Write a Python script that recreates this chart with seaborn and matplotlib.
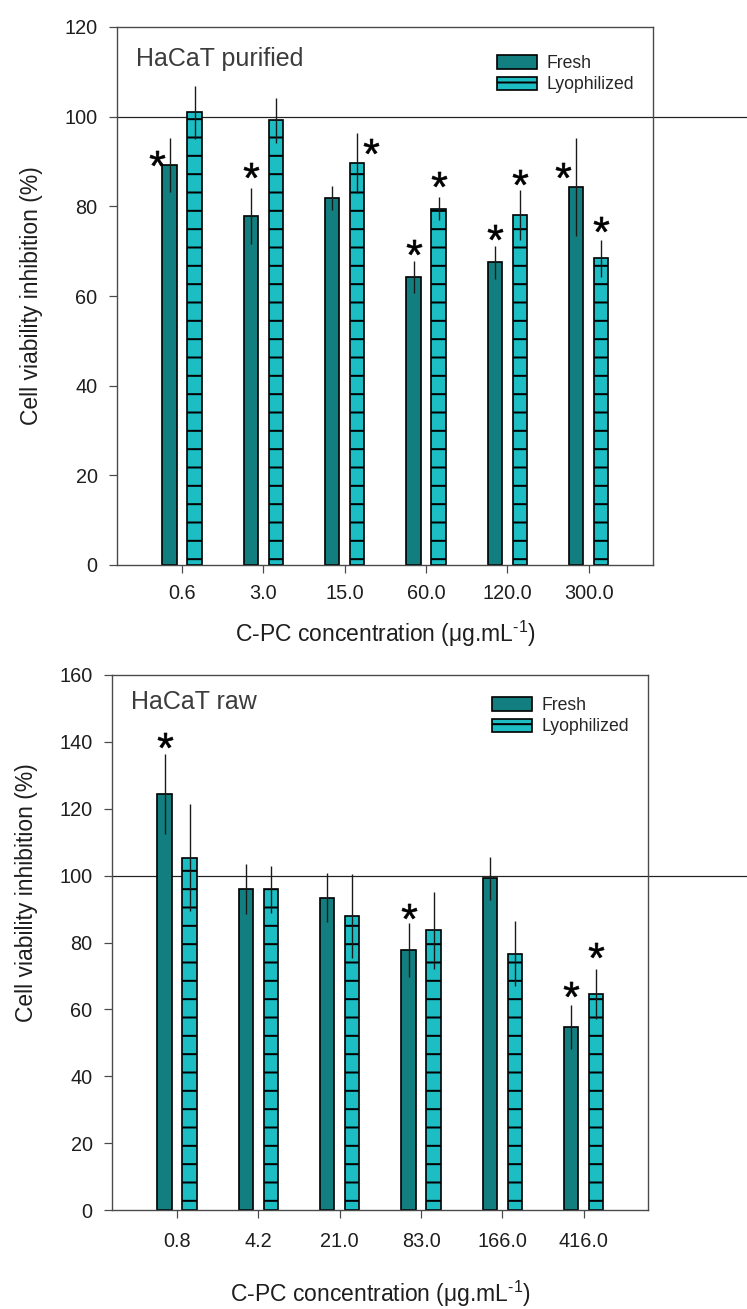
import numpy as np
import pandas as pd
import matplotlib
matplotlib.use("Agg")
import matplotlib.pyplot as plt
from matplotlib.patches import Patch
import seaborn as sns

# ---- data -------------------------------------------------------------
purified_conc = ["0.6", "3.0", "15.0", "60.0", "120.0", "300.0"]
purified_fresh = [89.2, 77.8, 81.9, 64.3, 67.5, 84.3]
purified_fresh_err = [6.1, 6.2, 2.7, 3.6, 3.7, 11.0]
purified_lyo = [101.0, 99.2, 89.7, 79.5, 78.1, 68.4]
purified_lyo_err = [5.9, 5.0, 6.7, 2.5, 5.5, 4.2]

raw_conc = ["0.8", "4.2", "21.0", "83.0", "166.0", "416.0"]
raw_fresh = [124.3, 95.9, 93.4, 77.7, 99.2, 54.8]
raw_fresh_err = [12.0, 7.5, 7.3, 8.0, 6.5, 6.6]
raw_lyo = [105.3, 95.9, 88.0, 83.7, 76.7, 64.7]
raw_lyo_err = [16.0, 7.0, 12.5, 11.5, 9.8, 7.5]

series_names = ["Fresh", "Lyophilized"]

# significance marks: (concentration, series, placement, height)
purified_marks = [("0.6", "Fresh", "left", 90.7), ("3.0", "Fresh", "top", 88.0),
                  ("15.0", "Lyophilized", "right", 93.5), ("60.0", "Fresh", "top", 70.9),
                  ("60.0", "Lyophilized", "top", 86.1), ("120.0", "Fresh", "top", 74.3),
                  ("120.0", "Lyophilized", "top", 86.5), ("300.0", "Fresh", "left", 88.0),
                  ("300.0", "Lyophilized", "top", 76.0)]
raw_marks = [("0.8", "Fresh", "top", 140.5), ("83.0", "Fresh", "top", 89.5),
             ("416.0", "Fresh", "top", 66.0), ("416.0", "Lyophilized", "top", 77.7)]

# ---- style ------------------------------------------------------------
DPI = 110
sns.set_theme(style="ticks")
plt.rcParams["font.family"] = ["Liberation Sans", "DejaVu Sans"]
plt.rcParams["mathtext.fontset"] = "custom"
plt.rcParams["mathtext.rm"] = "Liberation Sans"
plt.rcParams["mathtext.it"] = "Liberation Sans:italic"
plt.rcParams["hatch.linewidth"] = 1.3
plt.rcParams["hatch.color"] = "black"

FRESH = "#137e80"
LYO = "#1cbec4"
palette = {"Fresh": FRESH, "Lyophilized": LYO}
SPINE = "#4a4a4a"
XLABEL = "C-PC concentration (μg.mL$^{\\text{-}1}$)"

fig = plt.figure(figsize=(747 / DPI, 1309 / DPI), dpi=DPI)
ax_top = fig.add_axes([117 / 747, 1 - 565 / 1309, 536 / 747, 538 / 1309])
ax_bot = fig.add_axes([112 / 747, 1 - 1210 / 1309, 536 / 747, 535 / 1309])


def long_frame(conc, fresh, lyo):
    return pd.DataFrame({
        "conc": conc * 2,
        "series": ["Fresh"] * len(conc) + ["Lyophilized"] * len(conc),
        "value": list(fresh) + list(lyo),
    })


def draw_panel(ax, conc, fresh, fresh_err, lyo, lyo_err, ymax, title, marks,
               tick_pad, title_y, label_y, legend_y, ylabel_y):
    df = long_frame(conc, fresh, lyo)
    sns.barplot(data=df, x="conc", y="value", hue="series", order=conc,
                hue_order=series_names, palette=palette, errorbar=None,
                width=0.615, gap=0.43, saturation=1, legend=False,
                edgecolor="black", linewidth=1.1, ax=ax, zorder=2)

    errs = {"Fresh": fresh_err, "Lyophilized": lyo_err}
    vals = {"Fresh": fresh, "Lyophilized": lyo}
    centers = {}
    for name, cont in zip(series_names, ax.containers):
        xs = [b.get_x() + b.get_width() / 2 for b in cont]
        centers[name] = dict(zip(conc, xs))
        if name == "Lyophilized":
            for b in cont:
                b.set_hatch("-")
        ax.errorbar(xs, vals[name], yerr=errs[name], fmt="none",
                    ecolor="#1a1a1a", elinewidth=0.9, capsize=0, zorder=4)

    # reference level at 100 %, running out to the figure edge
    ax.axhline(100, xmin=0, xmax=1.2, color="#222222", lw=0.8,
               clip_on=False, zorder=1)

    for c, s, place, yv in marks:
        x = centers[s][c]
        if place == "left":
            x -= 0.16
        elif place == "right":
            x += 0.17
        ax.plot([x], [yv], ls="", marker="$*$", ms=10, color="black",
                markeredgewidth=0.4, zorder=5, clip_on=False)

    ax.set_xlim(-0.8, 5.79)
    ax.set_ylim(0, ymax)
    ax.set_yticks(np.arange(0, ymax + 1, 20))
    for side in ["left", "right", "top", "bottom"]:
        ax.spines[side].set_visible(True)
        ax.spines[side].set_color(SPINE)
        ax.spines[side].set_linewidth(0.9)
    ax.tick_params(axis="both", direction="out", length=5.2, width=0.8,
                   color=SPINE, labelsize=13, labelcolor="#1e1e1e")
    ax.tick_params(axis="x", pad=tick_pad)
    ax.tick_params(axis="y", pad=7.5)

    ax.set_xlabel(XLABEL, fontsize=15, color="#1e1e1e")
    ax.xaxis.set_label_coords(0.5, label_y)
    ax.set_ylabel("Cell viability inhibition (%)", fontsize=15,
                  color="#1e1e1e")
    ax.yaxis.set_label_coords(-0.138, ylabel_y)

    ax.text(0.036, title_y, title, transform=ax.transAxes, fontsize=16.4,
            color="#3c3c3c", ha="left", va="baseline")

    handles = [Patch(facecolor=FRESH, edgecolor="black", linewidth=1.1),
               Patch(facecolor=LYO, edgecolor="black", linewidth=1.1,
                     hatch="-")]
    ax.legend(handles, series_names, loc="upper left",
              bbox_to_anchor=(0.709, legend_y), frameon=False,
              prop={"family": ["Liberation Sans Narrow", "Liberation Sans"],
                    "size": 11.5},
              handlelength=2.3, handleheight=0.8, handletextpad=0.5,
              labelspacing=0.25, borderpad=0, borderaxespad=0)


draw_panel(ax_top, purified_conc, purified_fresh, purified_fresh_err,
           purified_lyo, purified_lyo_err, 120, "HaCaT purified",
           purified_marks, tick_pad=7.5, title_y=0.927, label_y=-0.1,
           legend_y=0.948, ylabel_y=0.5)
draw_panel(ax_bot, raw_conc, raw_fresh, raw_fresh_err, raw_lyo, raw_lyo_err,
           160, "HaCaT raw", raw_marks, tick_pad=9, title_y=0.936,
           label_y=-0.128, legend_y=0.959, ylabel_y=0.594)

fig.savefig("out.png", dpi=DPI)
